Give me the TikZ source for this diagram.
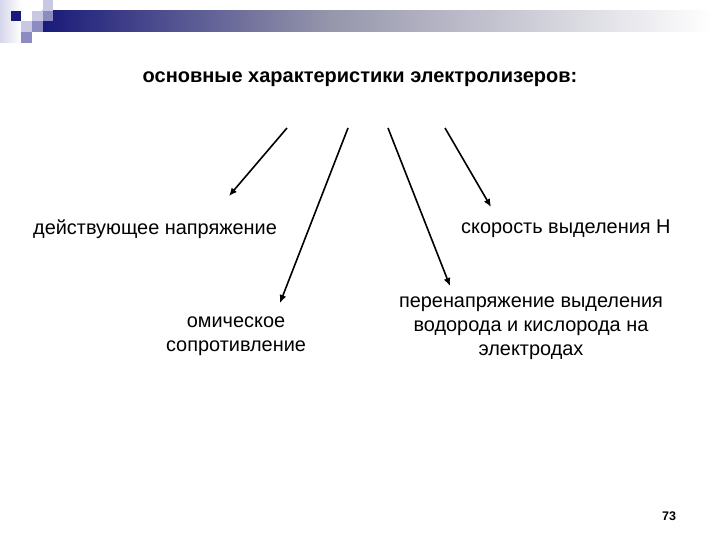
\documentclass[tikz,border=0pt]{standalone}
\usepackage{fontspec}
\setmainfont{Liberation Sans}
\usetikzlibrary{arrows.meta}
\definecolor{navy}{RGB}{26,26,122}
\definecolor{barmid}{RGB}{150,150,172}
\definecolor{lavlight}{RGB}{200,200,226}
\definecolor{lavmid}{RGB}{140,140,192}
\definecolor{lavfade}{RGB}{214,214,236}
\tikzset{
  lbl/.style={font=\fontsize{19.9}{24}\selectfont, inner sep=0pt, align=center},
  arr/.style={line width=1.6pt, -{Latex[length=8pt,width=7pt]}}
}
\begin{document}
\begin{tikzpicture}[x=1pt,y=-1pt]
\useasboundingbox (0,0) rectangle (720,540);
\fill[white] (0,0) rectangle (720,540);
% decoration
\shade[left color=lavfade, right color=white] (0,0) rectangle (21.3,42.7);
\shade[left color=navy, right color=barmid] (42.7,10.7) rectangle (330,32);
\shade[left color=barmid, right color=white] (330,10.7) rectangle (712,32);
\fill[navy] (10.7,10.7) rectangle (21.3,21.3);
\fill[lavlight] (32,10.7) rectangle (42.7,21.3);
\fill[lavlight] (42.7,0) rectangle (53.3,10.7);
\fill[lavlight] (21.3,21.3) rectangle (32,32);
\fill[lavmid] (42.7,10.7) rectangle (53.3,21.3);
\fill[lavmid] (32,21.3) rectangle (42.7,32);
\fill[lavmid] (21.3,32) rectangle (32,42.7);
% title
\node[lbl, font=\fontsize{20}{24}\selectfont\bfseries] (title) at (360,79) {основные характеристики электролизеров:};
% labels
\node[lbl, anchor=west] (volt) at (33,229) {действующее напряжение};
\node[lbl, anchor=west] (rate) at (461,229) {скорость выделения Н};
\node[lbl] (ohm) at (236,336) {омическое\\сопротивление};
\node[lbl] (over) at (531,328) {перенапряжение выделения\\водорода и кислорода на\\электродах};
\node[font=\fontsize{12.5}{14}\selectfont\bfseries, inner sep=0pt] (page) at (669,516) {73};
% arrows
\coordinate (s1) at (287,128);
\coordinate (e1) at (229,196);
\coordinate (s2) at (348,128);
\coordinate (e2) at (280,303);
\coordinate (s3) at (388,128);
\coordinate (e3) at (450,286);
\coordinate (s4) at (445,128);
\coordinate (e4) at (491,207);
\draw[arr] (s1) -- (e1);
\draw[arr] (s2) -- (e2);
\draw[arr] (s3) -- (e3);
\draw[arr] (s4) -- (e4);
\end{tikzpicture}
\end{document}
